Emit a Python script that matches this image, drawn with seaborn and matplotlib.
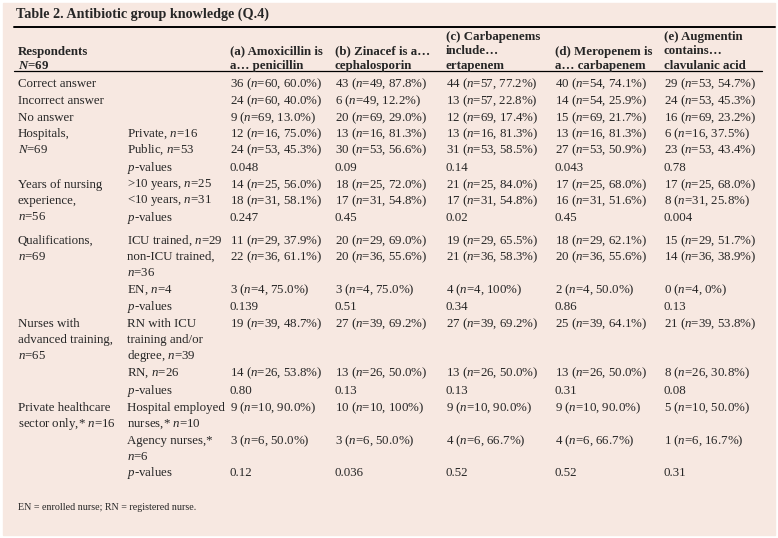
import matplotlib
matplotlib.use("Agg")
import matplotlib.pyplot as plt
import seaborn as sns

sns.set_theme(style="white")
plt.rcParams['font.family'] = ['Liberation Serif', 'DejaVu Serif']
plt.rcParams['mathtext.fontset'] = 'custom'
plt.rcParams['mathtext.rm'] = 'Liberation Serif'
plt.rcParams['mathtext.it'] = 'Liberation Serif:italic'
plt.rcParams['mathtext.bf'] = 'Liberation Serif:bold:italic'

title = "Table 2. Antibiotic group knowledge (Q.4)"
headers = [
    ["Respondents", r"$\mathbf{N}$=69"],
    [],
    ["(a) Amoxicillin is", "a\u2026 penicillin"],
    ["(b) Zinacef is a\u2026", "cephalosporin"],
    ["(c) Carbapenems", "include\u2026", "ertapenem"],
    ["(d) Meropenem is", "a\u2026 carbapenem"],
    ["(e) Augmentin", "contains\u2026", "clavulanic acid"],
]
# each row: (group label lines, subgroup lines, values a..e)
rows = [
    (["Correct answer"], [], ["36 ($n$=60, 60.0%)", "43 ($n$=49, 87.8%)", "44 ($n$=57, 77.2%)", "40 ($n$=54, 74.1%)", "29 ($n$=53, 54.7%)"]),
    (["Incorrect answer"], [], ["24 ($n$=60, 40.0%)", "6 ($n$=49, 12.2%)", "13 ($n$=57, 22.8%)", "14 ($n$=54, 25.9%)", "24 ($n$=53, 45.3%)"]),
    (["No answer"], [], ["9 ($n$=69, 13.0%)", "20 ($n$=69, 29.0%)", "12 ($n$=69, 17.4%)", "15 ($n$=69, 21.7%)", "16 ($n$=69, 23.2%)"]),
    (["Hospitals,", "$N$=69"], ["Private, $n$=16"], ["12 ($n$=16, 75.0%)", "13 ($n$=16, 81.3%)", "13 ($n$=16, 81.3%)", "13 ($n$=16, 81.3%)", "6 ($n$=16, 37.5%)"]),
    ([], ["Public, $n$=53"], ["24 ($n$=53, 45.3%)", "30 ($n$=53, 56.6%)", "31 ($n$=53, 58.5%)", "27 ($n$=53, 50.9%)", "23 ($n$=53, 43.4%)"]),
    ([], ["$p$-values"], ["0.048", "0.09", "0.14", "0.043", "0.78"]),
    (["Years of nursing", "experience,", "$n$=56"], [">10 years, $n$=25"], ["14 ($n$=25, 56.0%)", "18 ($n$=25, 72.0%)", "21 ($n$=25, 84.0%)", "17 ($n$=25, 68.0%)", "17 ($n$=25, 68.0%)"]),
    ([], ["<10 years, $n$=31"], ["18 ($n$=31, 58.1%)", "17 ($n$=31, 54.8%)", "17 ($n$=31, 54.8%)", "16 ($n$=31, 51.6%)", "8 ($n$=31, 25.8%)"]),
    ([], ["$p$-values"], ["0.247", "0.45", "0.02", "0.45", "0.004"]),
    (["Qualifications,", "$n$=69"], ["ICU trained, $n$=29"], ["11 ($n$=29, 37.9%)", "20 ($n$=29, 69.0%)", "19 ($n$=29, 65.5%)", "18 ($n$=29, 62.1%)", "15 ($n$=29, 51.7%)"]),
    ([], ["non-ICU trained,", "$n$=36"], ["22 ($n$=36, 61.1%)", "20 ($n$=36, 55.6%)", "21 ($n$=36, 58.3%)", "20 ($n$=36, 55.6%)", "14 ($n$=36, 38.9%)"]),
    ([], ["EN, $n$=4"], ["3 ($n$=4, 75.0%)", "3 ($n$=4, 75.0%)", "4 ($n$=4, 100%)", "2 ($n$=4, 50.0%)", "0 ($n$=4, 0%)"]),
    ([], ["$p$-values"], ["0.139", "0.51", "0.34", "0.86", "0.13"]),
    (["Nurses with", "advanced training,", "$n$=65"], ["RN with ICU", "training and/or", "degree, $n$=39"], ["19 ($n$=39, 48.7%)", "27 ($n$=39, 69.2%)", "27 ($n$=39, 69.2%)", "25 ($n$=39, 64.1%)", "21 ($n$=39, 53.8%)"]),
    ([], ["RN, $n$=26"], ["14 ($n$=26, 53.8%)", "13 ($n$=26, 50.0%)", "13 ($n$=26, 50.0%)", "13 ($n$=26, 50.0%)", "8 ($n$=26, 30.8%)"]),
    ([], ["$p$-values"], ["0.80", "0.13", "0.13", "0.31", "0.08"]),
    (["Private healthcare", "sector only,* $n$=16"], ["Hospital employed", "nurses,* $n$=10"], ["9 ($n$=10, 90.0%)", "10 ($n$=10, 100%)", "9 ($n$=10, 90.0%)", "9 ($n$=10, 90.0%)", "5 ($n$=10, 50.0%)"]),
    ([], ["Agency nurses,*", "$n$=6"], ["3 ($n$=6, 50.0%)", "3 ($n$=6, 50.0%)", "4 ($n$=6, 66.7%)", "4 ($n$=6, 66.7%)", "1 ($n$=6, 16.7%)"]),
    ([], ["$p$-values"], ["0.12", "0.036", "0.52", "0.52", "0.31"]),
]
row_y = [84, 101, 118, 134, 150, 168, 185, 201, 218, 241, 257, 290, 307, 324, 373, 391, 408, 441, 473]
footnote = "EN = enrolled nurse; RN = registered nurse."

col_x = [18, 127, 230, 335, 446, 555, 664]
LH = 16.2
FS = 9.3

fig = plt.figure(figsize=(7.78, 5.38), dpi=100)
ax = fig.add_axes([0, 0, 1, 1])
ax.set_xlim(0, 778)
ax.set_ylim(538, 0)
ax.axis("off")
ax.add_patch(plt.Rectangle((3, 3), 772, 532, color="#f7e8e1", zorder=0))

ax.text(16, 14, title, fontsize=10.2, fontweight="bold", va="center", ha="left")
ax.plot([14, 775], [27, 27], color="black", lw=1.4)
ax.plot([14, 762], [71, 71], color="black", lw=0.9)

for x, lines in zip(col_x, headers):
    n = len(lines)
    for i, ln in enumerate(lines):
        y = 66 - (n - 1 - i) * 14.5
        ax.text(x, y, ln, fontsize=FS, fontweight="bold", va="center", ha="left")

for (grp, sub, vals), y in zip(rows, row_y):
    for i, ln in enumerate(grp):
        ax.text(col_x[0], y + i * LH, ln, fontsize=FS, va="center", ha="left")
    for i, ln in enumerate(sub):
        ax.text(col_x[1], y + i * LH, ln, fontsize=FS, va="center", ha="left")
    for x, v in zip(col_x[2:], vals):
        ax.text(x, y, v, fontsize=FS, va="center", ha="left")

ax.text(18, 508, footnote, fontsize=7.2, va="center", ha="left")

fig.savefig("out.png", dpi=100, facecolor="white")
